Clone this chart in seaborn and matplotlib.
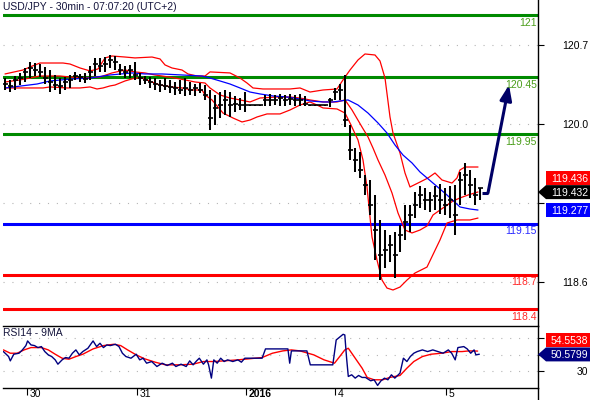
import matplotlib
matplotlib.use("Agg")
import matplotlib.pyplot as plt
import numpy as np
import pandas as pd
import seaborn as sns
from matplotlib.patches import Polygon
from matplotlib.lines import Line2D

# ------------------------------------------------------------------ data
title = "USD/JPY - 30min - 07:07:20 (UTC+2)"
rsi_title = "RSI14 - 9MA"

day_labels = ["30", "31", "2016", "4", "5"]
day_pos = [4.4, 26.4, 48.2, 66.0, 88.2]

price_ticks = [118.6, 119.3, 120.0, 120.7]
price_tick_labels = ["118.6", "", "120.0", "120.7"]   # 119.3 sits under the value tags
rsi_ticks = [30, 50, 70]
rsi_tick_labels = ["30", "", ""]                      # 50 / 70 sit under the value tags

bar_high = [120.407, 120.390, 120.425, 120.452, 120.496, 120.549, 120.540, 120.531, 120.505, 120.478,
            120.434, 120.407, 120.416, 120.434, 120.461, 120.443, 120.452, 120.514, 120.585, 120.585,
            120.593, 120.611, 120.602, 120.531, 120.514, 120.523, 120.549, 120.452, 120.425, 120.416,
            120.407, 120.390, 120.407, 120.390, 120.372, 120.390, 120.407, 120.372, 120.354, 120.363,
            120.345, 120.301, 120.257, 120.283, 120.301, 120.283, 120.248, 120.230, 120.283, 120.168,
            120.168, 120.168, 120.257, 120.266, 120.257, 120.266, 120.257, 120.266, 120.257, 120.266,
            120.248, 120.168, 120.168, 120.168, 120.168, 120.230, 120.319, 120.354, 120.434, 119.991,
            119.787, 119.752, 119.548, 119.504, 119.371, 119.150, 119.061, 119.017, 119.043, 119.105,
            119.283, 119.283, 119.398, 119.451, 119.433, 119.398, 119.451, 119.469, 119.433, 119.451,
            119.460, 119.575, 119.655, 119.593, 119.522, 119.433]
bar_low = [120.301, 120.283, 120.301, 120.345, 120.372, 120.407, 120.425, 120.416, 120.354, 120.283,
           120.301, 120.266, 120.301, 120.319, 120.390, 120.372, 120.363, 120.390, 120.425, 120.461,
           120.461, 120.496, 120.478, 120.434, 120.407, 120.407, 120.390, 120.345, 120.354, 120.319,
           120.301, 120.283, 120.301, 120.275, 120.257, 120.266, 120.248, 120.257, 120.248, 120.275,
           120.213, 119.947, 119.991, 120.053, 120.080, 120.062, 120.106, 120.124, 120.106, 120.160,
           120.160, 120.160, 120.159, 120.159, 120.168, 120.159, 120.159, 120.168, 120.159, 120.159,
           120.159, 120.160, 120.160, 120.160, 120.160, 120.151, 120.213, 120.213, 119.973, 119.681,
           119.575, 119.522, 119.371, 119.194, 118.795, 118.618, 118.725, 118.778, 118.636, 118.866,
           118.973, 119.043, 119.167, 119.256, 119.238, 119.221, 119.238, 119.203, 119.194, 119.167,
           119.017, 119.283, 119.371, 119.345, 119.283, 119.327]
bar_close = [120.354, 120.337, 120.390, 120.407, 120.461, 120.496, 120.478, 120.461, 120.407, 120.372,
             120.345, 120.337, 120.372, 120.390, 120.425, 120.416, 120.399, 120.461, 120.531, 120.514,
             120.531, 120.567, 120.549, 120.478, 120.461, 120.478, 120.434, 120.407, 120.390, 120.372,
             120.354, 120.345, 120.337, 120.328, 120.319, 120.301, 120.319, 120.301, 120.319, 120.301,
             120.257, 120.053, 120.142, 120.168, 120.213, 120.168, 120.177, 120.168, 120.168, 120.165,
             120.165, 120.165, 120.213, 120.213, 120.213, 120.230, 120.213, 120.221, 120.213, 120.213,
             120.177, 120.165, 120.165, 120.165, 120.165, 120.213, 120.283, 120.301, 120.035, 119.770,
             119.681, 119.593, 119.460, 119.283, 119.061, 118.840, 118.884, 118.928, 118.840, 119.017,
             119.132, 119.194, 119.283, 119.371, 119.327, 119.327, 119.362, 119.327, 119.283, 119.327,
             119.194, 119.504, 119.548, 119.460, 119.371, 119.432]

upper_x = [0, 3.6, 5, 7, 11.6, 13, 15, 17, 18.6, 20, 21.4, 24, 26, 29.4, 31, 32, 33.4, 35.4, 36.6, 38.4,
           40, 41, 45, 47, 48.4, 49.6, 51.6, 57, 59, 61, 63.6, 66.4, 67.6, 69, 70.6, 72, 74, 75, 76, 77,
           77.6, 79, 80, 81, 83, 84.6, 86, 87.4, 89.4, 90.4, 91, 92, 94.6]
upper_y = [120.443, 120.478, 120.505, 120.540, 120.540, 120.531, 120.496, 120.470, 120.487, 120.585,
           120.602, 120.593, 120.585, 120.593, 120.576, 120.523, 120.496, 120.478, 120.443, 120.425,
           120.425, 120.461, 120.452, 120.407, 120.363, 120.319, 120.310, 120.310, 120.319, 120.283,
           120.301, 120.310, 120.390, 120.478, 120.567, 120.620, 120.611, 120.558, 120.407, 120.062,
           119.920, 119.743, 119.566, 119.442, 119.486, 119.522, 119.566, 119.504, 119.477, 119.522,
           119.593, 119.619, 119.619]

mid_x = [0, 3, 7, 11, 15, 19, 21.4, 24, 26, 28, 30, 31.4, 34, 36, 38, 40, 41, 43, 45, 47,
         49, 51, 54.4, 57, 59, 61, 63.6, 66.4, 68, 69.4, 71.4, 72.6, 73.6, 74.6, 76, 77.4, 78.6, 80, 81.4, 83,
         84.4, 85.6, 87, 89.6, 91, 92.6, 94.6]
mid_y = [120.372, 120.390, 120.425, 120.425, 120.407, 120.416, 120.452, 120.478, 120.461, 120.452,
         120.434, 120.425, 120.407, 120.390, 120.372, 120.363, 120.319, 120.257, 120.230, 120.213,
         120.195, 120.230, 120.239, 120.239, 120.230, 120.213, 120.195, 120.195, 120.213, 120.124,
         119.973, 119.885, 119.787, 119.681, 119.548, 119.389, 119.212, 119.061, 119.035, 119.061,
         119.097, 119.194, 119.238, 119.318, 119.345, 119.371, 119.398]

lower_x = [0, 7.6, 9, 12.4, 15, 17, 18.4, 19.6, 21, 22, 24, 26, 27.4, 29.4, 31, 33.4, 35.4, 37.4, 39.4, 40,
           41.4, 43.6, 45.6, 47.4, 49, 50.4, 52.4, 55, 57, 59, 61, 62.4, 63.6, 66.4, 68, 69, 70.6, 71.6, 72.4, 73.4,
           74.4, 75.4, 76.4, 77.6, 79, 80.4, 82, 84.4, 87, 88.4, 90.4, 93, 94.6]
lower_y = [120.319, 120.319, 120.328, 120.319, 120.319, 120.328, 120.310, 120.319, 120.337, 120.345,
           120.381, 120.407, 120.407, 120.372, 120.345, 120.328, 120.319, 120.301, 120.301, 120.257,
           120.213, 120.097, 120.053, 120.018, 120.035, 120.062, 120.089, 120.089, 120.124, 120.168,
           120.195, 120.168, 120.142, 120.133, 120.097, 120.009, 119.858, 119.681, 119.442, 118.999,
           118.795, 118.618, 118.547, 118.530, 118.556, 118.618, 118.680, 118.733, 118.973, 119.123,
           119.150, 119.150, 119.167]

ma_x = [0, 6.4, 9, 13.4, 17, 21, 25.4, 28, 31.4, 35.4, 39.4, 41, 43, 45, 47, 49, 51, 53.6, 56.4, 59,
        61, 63.6, 65.6, 68.6, 70.6, 72.6, 74.6, 76.4, 78, 79.6, 81.4, 83, 85.6, 88.4, 91, 93, 94.6]
ma_y = [120.319, 120.354, 120.381, 120.399, 120.407, 120.434, 120.452, 120.443, 120.443, 120.434,
        120.425, 120.407, 120.381, 120.354, 120.319, 120.283, 120.266, 120.248, 120.239, 120.221,
        120.204, 120.195, 120.195, 120.213, 120.168, 120.097, 120.009, 119.920, 119.814, 119.725,
        119.655, 119.575, 119.477, 119.371, 119.265, 119.247, 119.238]

level_values = [120.965, 120.415, 119.91, 119.115, 118.665, 118.36]
level_labels = ["121", "120.45", "119.95", "119.15", "118.7", "118.4"]

arrow_x = [95.4, 96.6, 100.8]
arrow_y = [119.39, 119.39, 120.345]

last_close = 119.432
band_last = 119.436
ma_last = 119.277

rsi_x = [-0.32, 0.72, 1.06, 1.76, 2.8, 3.48, 4.18, 4.52, 5.2, 5.9,
         6.58, 7.28, 7.96, 8.66, 9.34, 10.04, 10.58, 11.42, 12.1, 12.8,
         13.48, 14.18, 14.86, 15.56, 16.58, 17.28, 17.62, 18.32, 19.0, 19.68,
         20.38, 21.06, 22.1, 22.8, 23.48, 24.18, 25.2, 26.24, 26.94, 27.62,
         28.32, 29.34, 30.38, 31.42, 32.44, 33.48, 34.18, 35.2, 36.24, 36.94,
         37.62, 38.32, 38.86, 39.68, 40.38, 40.72, 41.28, 41.76, 42.44, 43.14,
         43.82, 44.52, 45.56, 46.58, 47.28, 47.96, 51.42, 52.1, 56.58, 56.94,
         57.28, 60.38, 61.06, 65.56, 66.24, 67.62, 67.96, 68.32, 68.66, 69.34,
         70.04, 70.72, 71.42, 72.1, 73.14, 73.82, 74.52, 75.2, 75.9, 76.58,
         77.28, 77.96, 79.0, 79.68, 80.38, 81.06, 81.76, 82.44, 83.48, 84.52,
         85.56, 86.58, 87.62, 88.66, 89.34, 90.04, 90.58, 91.76, 92.44, 93.14,
         93.82, 94.18, 94.86]
rsi_y = [54, 48, 42.8, 50.8, 52, 56, 61.2, 66.8, 62, 61.2,
         58.8, 60, 54, 50, 48, 44, 38.8, 44, 46.8, 46,
         52, 56, 50, 54, 58, 64, 66.8, 60, 64, 58.8,
         62, 61.2, 62.8, 60, 52, 48, 46, 50.8, 44, 46,
         40, 42, 36, 40, 37.2, 40, 36, 38.8, 36, 42.8,
         38, 42.8, 46, 38.8, 44, 38, 22, 44, 40, 46,
         42, 44, 42, 44, 41.2, 46, 46, 57.2, 57.2, 40,
         54.8, 54.8, 38, 38, 68, 74.8, 74, 46, 24, 26,
         22, 25.2, 22.8, 22.8, 18.8, 20, 13.2, 18.8, 22, 20,
         26, 22, 28, 46, 42, 48, 52, 54, 56, 54,
         56, 54, 52, 56, 52, 44, 58.8, 60, 57.2, 52,
         56, 50, 50.8]

rma_x = [-0.32, 1.06, 2.44, 3.82, 5.2, 7.28, 8.66, 10.04, 11.42, 12.8,
         14.18, 15.56, 17.62, 19.68, 21.76, 23.14, 24.52, 26.24, 27.96, 30.04,
         32.1, 34.86, 37.62, 39.68, 41.76, 43.82, 46.58, 48.66, 51.42, 53.48,
         55.56, 57.28, 59.0, 61.76, 63.82, 65.9, 66.94, 67.96, 68.66, 70.04,
         71.42, 72.44, 73.82, 75.56, 76.94, 79.0, 80.38, 81.76, 83.48, 85.2,
         87.28, 89.34, 91.42, 92.8, 94.52]
rma_y = [56, 52, 52, 56, 58.8, 58.8, 56, 50.8, 46, 44.8,
         48, 50.8, 57.2, 61.2, 62.8, 61.2, 56, 50, 45.2, 41.2,
         38, 38, 38.8, 42, 42, 42.8, 44, 45.2, 46.8, 52,
         54.8, 56, 54.8, 50, 44, 40, 48, 56, 58, 46,
         34, 22.8, 20, 20, 22.8, 25.2, 34, 42, 48, 50.8,
         52, 54, 54, 54.8, 54.6]

rsi_last = 50.5799
rma_last = 54.5538

# ------------------------------------------------------------------ style
sns.set_theme(style="white")
plt.rcParams['font.family'] = ['Liberation Sans', 'DejaVu Sans']
plt.rcParams['font.size'] = 7.5

W, H = 590, 400
fig = plt.figure(figsize=(W / 100, H / 100), dpi=100)
fig.patch.set_facecolor('white')
ax = fig.add_axes([3 / W, 1 - 326 / H, 535 / W, 326 / H])
axr = fig.add_axes([3 / W, 1 - 388 / H, 535 / W, 62 / H])

XL = (-0.4, 106.6)
ax.set_xlim(*XL)
ax.set_ylim(118.211, 121.098)
axr.set_xlim(*XL)
axr.set_ylim(10.1, 84.8)

grid_kw = dict(color='#b5b5b5', lw=0.8, ls=(0, (1, 7)), zorder=0)
for v in price_ticks:
    ax.axhline(v, **grid_kw)
for v in rsi_ticks:
    axr.axhline(v, **grid_kw)

# horizontal levels
line_cols = ['#008a00', '#008a00', '#008a00', '#0000ff', '#ff0000', '#ff0000']
text_cols = ['#4a9d1a', '#4a9d1a', '#4a9d1a', '#2a2aff', '#ff2a2a', '#ff2a2a']
for lv, lab, lc, tc in zip(level_values, level_labels, line_cols, text_cols):
    ax.axhline(lv, color=lc, lw=2.2, zorder=1)
    ax.annotate(lab, xy=(1, lv), xycoords=('axes fraction', 'data'), xytext=(-1, -5.4),
                textcoords='offset points', ha='right', va='center', color=tc, fontsize=7.5)

# bands and moving average
line_kw = dict(estimator=None, sort=False, legend=False)
sns.lineplot(x=upper_x, y=upper_y, ax=ax, color='#ff0000', lw=0.9, zorder=2, **line_kw)
sns.lineplot(x=mid_x, y=mid_y, ax=ax, color='#ff0000', lw=0.9, zorder=2, **line_kw)
sns.lineplot(x=lower_x, y=lower_y, ax=ax, color='#ff0000', lw=0.9, zorder=2, **line_kw)
sns.lineplot(x=ma_x, y=ma_y, ax=ax, color='#0000ff', lw=0.9, zorder=2, **line_kw)

# price bars
idx = np.arange(len(bar_high))
ax.vlines(idx, bar_low, bar_high, color='black', lw=1.45, zorder=3)
ax.hlines(bar_close, idx - 0.5, idx + 0.5, color='black', lw=1.2, zorder=3)

# projection arrow
ax.plot(arrow_x[:2], arrow_y[:2], color='#000066', lw=2.2, solid_capstyle='butt', zorder=4)
ax.annotate('', xy=(arrow_x[2], arrow_y[2]), xytext=(arrow_x[1], arrow_y[1]),
            arrowprops=dict(arrowstyle='-|>,head_length=0.9,head_width=0.35', color='#000066',
                            lw=2.2, shrinkA=0, shrinkB=0, mutation_scale=10), zorder=4)

# RSI
sns.lineplot(x=rma_x, y=rma_y, ax=axr, color='#ff0000', lw=1.0, zorder=2, **line_kw)
sns.lineplot(x=rsi_x, y=rsi_y, ax=axr, color='#000080', lw=1.0, zorder=3, **line_kw)

# spines / ticks
for a in (ax, axr):
    for s in a.spines.values():
        s.set_color('black')
        s.set_linewidth(1.0)
    a.spines['left'].set_visible(False)
    a.set_xlabel('')
    a.set_ylabel('')
ax.spines['top'].set_visible(False)
ax.spines['bottom'].set_visible(False)
ax.set_xticks([])

for a, ticks, labs in ((ax, price_ticks, price_tick_labels), (axr, rsi_ticks, rsi_tick_labels)):
    a.yaxis.tick_right()
    a.set_yticks(ticks, labels=labs)
    a.tick_params(axis='y', right=True, left=False, labelright=True, labelleft=False,
                  direction='out', length=4, width=0.8, color='black', pad=32,
                  labelsize=7.5, labelcolor='black')
    for t in a.yaxis.get_majorticklabels():
        t.set_horizontalalignment('right')

axr.set_xticks(day_pos, labels=[''] * len(day_pos))
axr.tick_params(axis='x', bottom=True, direction='out', length=5, width=0.8, color='black')
for pos, lab in zip(day_pos, day_labels):
    axr.annotate(lab, xy=(pos, 0), xycoords=('data', 'axes fraction'), xytext=(2.2, -4.4),
                 textcoords='offset points', ha='left', va='center', fontsize=7.5, color='black',
                 fontweight='bold' if lab == "2016" else 'normal')

fig.add_artist(Line2D([538 / W, 538 / W], [0, 12 / H], color='black', lw=1.0))

fig.text(3 / W, 1 - 7.5 / H, title, ha='left', va='center', fontsize=7.5, color='#14143c')
fig.text(3 / W, 1 - 333.5 / H, rsi_title, ha='left', va='center', fontsize=7.5, color='#14143c')


# value tags on the right
def tag(ycen, text, fc, arrow):
    h = 14
    y0 = ycen - h / 2
    if arrow:
        pts = [(538, ycen), (546, y0), (W, y0), (W, y0 + h), (546, y0 + h)]
    else:
        pts = [(546, y0), (W, y0), (W, y0 + h), (546, y0 + h)]
    pts = [(x / W, y / H) for x, y in pts]
    fig.add_artist(Polygon(pts, closed=True, transform=fig.transFigure, fc=fc, ec='none', zorder=5))
    fig.text(588 / W, ycen / H, text, color='white', ha='right', va='center_baseline',
             fontsize=7.5, zorder=6)


def disp_y(a, v):
    return a.transData.transform((0, v))[1]


yc_close = disp_y(ax, last_close) - 4
tag(yc_close + 14, f"{band_last:.3f}", '#ff0000', False)
tag(yc_close, f"{last_close:.3f}", '#000000', True)
tag(disp_y(ax, ma_last) - 4, f"{ma_last:.3f}", '#0000ff', False)

yc_rsi = disp_y(axr, rsi_last)
tag(yc_rsi + 14, f"{rma_last:.4f}", '#ff0000', False)
tag(yc_rsi, f"{rsi_last:.4f}", '#000080', True)

fig.savefig("out.png", dpi=100)
